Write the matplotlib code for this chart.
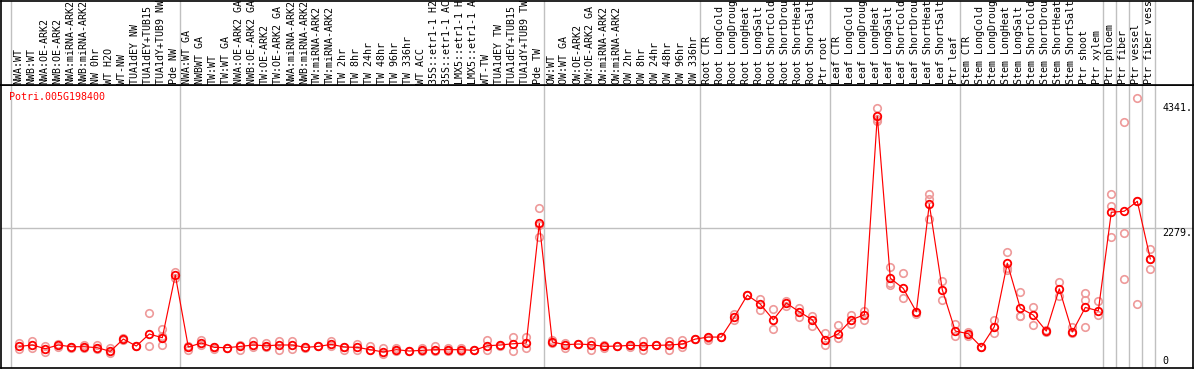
import numpy as np
import matplotlib
matplotlib.use('Agg')
import matplotlib.pyplot as plt

gene = 'Potri.005G198400'

labels = ['NWA:WT', 'NWB:WT', 'NWA:OE-ARK2', 'NWB:OE-ARK2', 'NWA:miRNA-ARK2',
          'NWB:miRNA-ARK2', 'NW 0hr', 'WT H2O', 'WT-NW', 'TUA1dEY NW',
          'TUA1dEY+TUB15 NW', 'TUA1dY+TUB9 NW', 'Pde NW',
          'NWA:WT GA', 'NWBWT GA', 'TW:WT', 'TW:WT GA', 'NWA:OE-ARK2 GA',
          'NWB:OE-ARK2 GA', 'TW:OE-ARK2', 'TW:OE-ARK2 GA', 'NWA:miRNA-ARK2',
          'NWB:miRNA-ARK2', 'TW:miRNA-ARK2', 'TW:miRNA-ARK2', 'TW 2hr', 'TW 8hr',
          'TW 24hr', 'TW 48hr', 'TW 96hr', 'TW 336hr', 'WT ACC', '35S::etr1-1 H2O',
          '35S::etr1-1 ACC', 'LMX5::etr1-1 H2O', 'LMX5::etr1-1 ACC', 'WT-TW',
          'TUA1dEY TW', 'TUA1dEY+TUB15 TW', 'TUA1dY+TUB9 TW', 'Pde TW',
          'OW:WT', 'OW:WT GA', 'OW:OE-ARK2', 'OW:OE-ARK2 GA', 'OW:miRNA-ARK2',
          'OW:miRNA-ARK2', 'OW 2hr', 'OW 8hr', 'OW 24hr', 'OW 48hr', 'OW 96hr',
          'OW 336hr',
          'Root CTR', 'Root LongCold', 'Root LongDrought', 'Root LongHeat',
          'Root LongSalt', 'Root ShortCold', 'Root ShortDrought', 'Root ShortHeat',
          'Root ShortSalt', 'Ptr root',
          'Leaf CTR', 'Leaf LongCold', 'Leaf LongDrought', 'Leaf LongHeat',
          'Leaf LongSalt', 'Leaf ShortCold', 'Leaf ShortDrought', 'Leaf ShortHeat',
          'Leaf ShortSalt', 'Ptr leaf',
          'Stem CTR', 'Stem LongCold', 'Stem LongDrought', 'Stem LongHeat',
          'Stem LongSalt', 'Stem ShortCold', 'Stem ShortDrought', 'Stem ShortHeat',
          'Stem ShortSalt', 'Ptr shoot', 'Ptr xylem',
          'Ptr phloem', 'Ptr fiber', 'Ptr vessel', 'Ptr fiber vessel']

# mean expression per sample
means = [321, 344, 283, 344, 316, 316, 300, 239, 442, 327, 525, 464, 1496,
         311, 377, 305, 300, 321, 344, 332, 344, 344, 305, 321, 354, 311, 305,
         267, 229, 267, 245, 256, 267, 267, 267, 256, 332, 344, 365, 377, 2351,
         393, 349, 360, 349, 321, 327, 338, 332, 338, 344, 360, 442,
         475, 475, 804, 1166, 1018, 760, 1035, 892, 760, 431,
         530, 760, 842, 4117, 1446, 1276, 892, 2664, 1254, 574,
         530, 311, 645, 1693, 952, 837, 574, 1270, 558, 963, 908,
         2532, 2549, 2713, 1764]

# replicate values per sample
reps = [[377, 278], [403, 294], [321, 222], [365, 311], [316, 300],
        [349, 288], [337, 278], [300, 212], [460, 430], [335, 320],
        [870, 332], [607, 497, 349], [1555, 1446],
        [332, 267], [420, 349], [316, 278], [300, 300], [349, 267], [403, 316],
        [377, 316], [403, 267], [403, 278], [300, 305], [321, 321], [403, 321],
        [311, 256], [360, 267], [321, 256], [294, 196], [294, 240], [245, 245],
        [294, 240], [321, 240], [294, 240], [294, 240], [256, 256], [420, 267],
        [349, 321], [475, 240], [475, 294], [2598, 2324, 2131],
        [420, 377], [382, 294], [365, 360], [409, 267], [349, 294], [327, 327],
        [349, 316], [403, 267], [338, 338], [403, 256], [431, 316], [442, 442],
        [464, 420], [475, 475], [853, 749], [1166, 1166], [1101, 925],
        [936, 612], [1062, 980], [952, 798], [826, 650], [541, 349],
        [667, 459], [842, 689], [908, 749], [4244, 4067, 4040],
        [1627, 1374, 1331], [1528, 1117], [892, 860], [2829, 2751, 2427],
        [1397, 1089], [694, 497],
        [562, 486], [311, 311], [749, 541], [1874, 1621, 1583],
        [1216, 826, 815], [969, 673], [596, 563], [1381, 1144], [640, 541],
        [1200, 1089, 640], [1062, 831],
        [2829, 2636, 2131], [4013, 2187, 1440], [4408, 2713, 1018],
        [1934, 1763, 1595]]

# first sample index of each group (group separators)
group_starts = [0, 13, 41, 53, 63, 73, 84, 85, 86, 87, 88]

ytick_vals = [0, 2279, 4341]
ytick_text = ['0', '2279.', '4341.']

W, H = 1194, 370
fig = plt.figure(figsize=(W / 100, H / 100), dpi=100)

px0, step = 19.3, 13.0
xlo = (1 - px0) / step
xhi = (1193 - px0) / step

ax = fig.add_axes([1 / W, 2 / H, 1192 / W, 283 / H])
hd = fig.add_axes([1 / W, 285 / H, 1192 / W, 84 / H])

mono = 'DejaVu Sans Mono'
fs = 7.2
x = np.arange(len(labels))

for a in (ax, hd):
    a.set_xlim(xlo, xhi)
    a.set_xticks([])
    a.set_yticks([])
    for s in a.spines.values():
        s.set_color('black')
        s.set_linewidth(1.2)
    for g in group_starts:
        a.axvline(g - 0.62, color='#c0c0c0', lw=1.0, zorder=0)

ax.set_ylim(-35, 4630)
ax.axhline(2279, color='#c0c0c0', lw=1.0, zorder=0)

for i, r in enumerate(reps):
    ax.plot([i] * len(r), r, 'o', ms=5.4, mfc='none', mec='#ee9a9a', mew=1.2, zorder=2)
ax.plot(x, means, '-', color='red', lw=0.85, zorder=3)
ax.plot(x, means, 'o', ms=5.4, mfc='none', mec='red', mew=1.3, zorder=4)

ax.text(8 / 1192, 0.975, gene, transform=ax.transAxes, color='red',
        family=mono, fontsize=fs, ha='left', va='top')

yt = ax.get_yaxis_transform()
for v, t in zip(ytick_vals, ytick_text):
    ax.text(0.9745, v, t, transform=yt, family=mono, fontsize=fs, ha='left',
            va='bottom' if v == 0 else 'top', color='black')

hd.set_ylim(0, 84)
for i, lab in enumerate(labels):
    hd.text(i - 0.08, 1.5, lab, rotation=90, ha='center', va='bottom',
            family=mono, fontsize=fs, clip_on=True)

fig.savefig('out.png', dpi=100)
